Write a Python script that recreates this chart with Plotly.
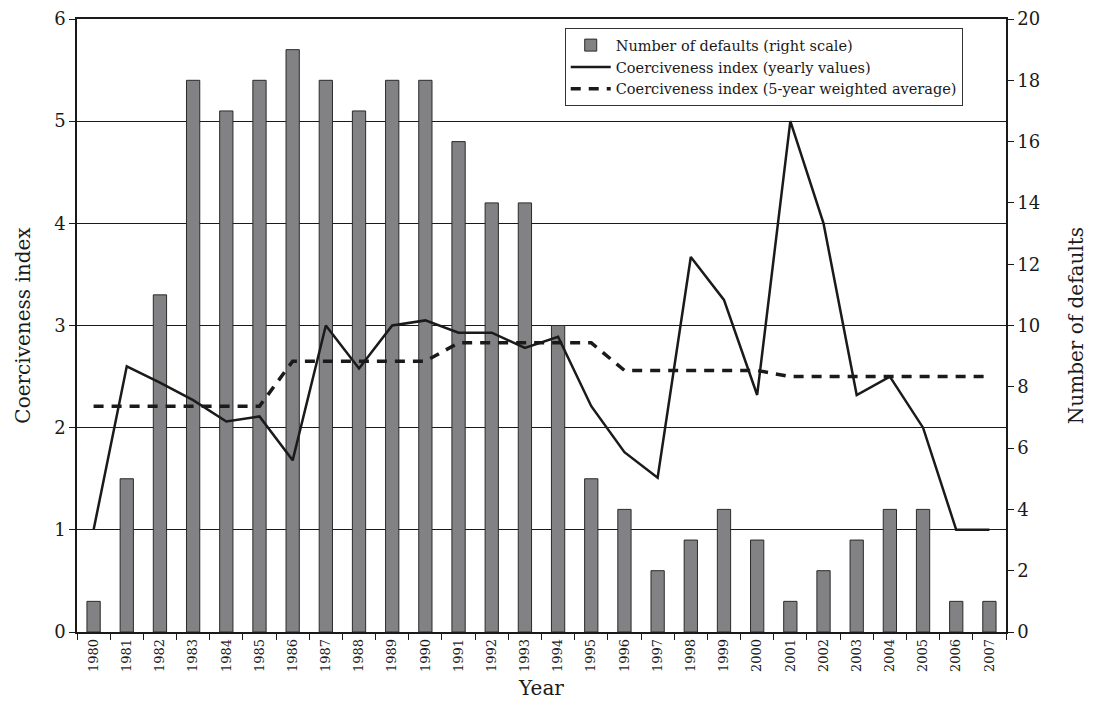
import plotly.graph_objects as go

years = [str(y) for y in range(1980, 2008)]
defaults = [1, 5, 11, 18, 17, 18, 19, 18, 17, 18, 18, 16, 14, 14, 10,
            5, 4, 2, 3, 4, 3, 1, 2, 3, 4, 4, 1, 1]
coerc_yearly = [1.0, 2.60, 2.44, 2.27, 2.06, 2.11, 1.68, 3.0, 2.58, 3.0, 3.05,
                2.93, 2.93, 2.78, 2.89, 2.21, 1.76, 1.51, 3.67, 3.25, 2.32,
                5.0, 4.0, 2.32, 2.50, 2.0, 1.0, 1.0]
coerc_avg = [2.21, 2.21, 2.21, 2.21, 2.21, 2.21, 2.65, 2.65, 2.65, 2.65, 2.65,
             2.83, 2.83, 2.83, 2.83, 2.83, 2.56, 2.56, 2.56, 2.56, 2.56,
             2.50, 2.50, 2.50, 2.50, 2.50, 2.50, 2.50]

FONT = "DejaVu Serif, Liberation Serif, serif"

fig = go.Figure()
fig.add_trace(go.Bar(x=years, y=defaults, name="Number of defaults (right scale)",
                     marker=dict(color="#828285", line=dict(color="#2a2a2a", width=1)),
                     width=0.4, yaxis="y"))
fig.add_trace(go.Scatter(x=years, y=coerc_yearly, mode="lines",
                         name="Coerciveness index (yearly values)",
                         line=dict(color="#1a1a1a", width=2.5), yaxis="y2"))
fig.add_trace(go.Scatter(x=years, y=coerc_avg, mode="lines",
                         name="Coerciveness index (5-year weighted average)",
                         line=dict(color="#1a1a1a", width=3.5, dash="10px,8px"), yaxis="y2"))

fig.update_layout(
    width=1094, height=707,
    margin=dict(l=69, r=96, t=11, b=83, autoexpand=False),
    paper_bgcolor="white", plot_bgcolor="white",
    font=dict(family=FONT, color="#1a1a1a", size=17),
    showlegend=True,
    legend=dict(x=0.525, y=0.985, xanchor="left", yanchor="top",
                bgcolor="white", bordercolor="#333", borderwidth=1,
                font=dict(family=FONT, size=14.5), tracegroupgap=0,
                itemwidth=40),
    xaxis=dict(type="category", range=[-0.5, 27.5], tickangle=-90,
               tickson="boundaries", ticks="outside", ticklen=6, tickcolor="#1a1a1a",
               showline=True, linecolor="#1a1a1a", linewidth=1.5, mirror=True,
               tickfont=dict(size=13), showgrid=False, automargin=False,
               title=dict(text="Year", font=dict(size=20), standoff=10)),
    yaxis=dict(range=[0, 20], side="right", tickvals=list(range(0, 21, 2)),
               ticks="outside", ticklen=6, tickcolor="#1a1a1a",
               showline=True, linecolor="#1a1a1a", linewidth=1.5,
               showgrid=False, zeroline=False, automargin=False,
               tickfont=dict(size=18), ticklabeloverflow="allow",
               title=dict(text="Number of defaults", font=dict(size=20), standoff=30)),
    yaxis2=dict(range=[0, 6], side="left", overlaying="y", tickvals=list(range(0, 7)),
                ticks="outside", ticklen=6, tickcolor="#1a1a1a",
                showline=True, linecolor="#1a1a1a", linewidth=1.5,
                showgrid=True, gridcolor="#1a1a1a", gridwidth=1, zeroline=False,
                automargin=False, tickfont=dict(size=18), ticklabeloverflow="allow",
                title=dict(text="Coerciveness index", font=dict(size=20), standoff=18)),
    bargap=0.6,
)

fig.write_html("out.html")
